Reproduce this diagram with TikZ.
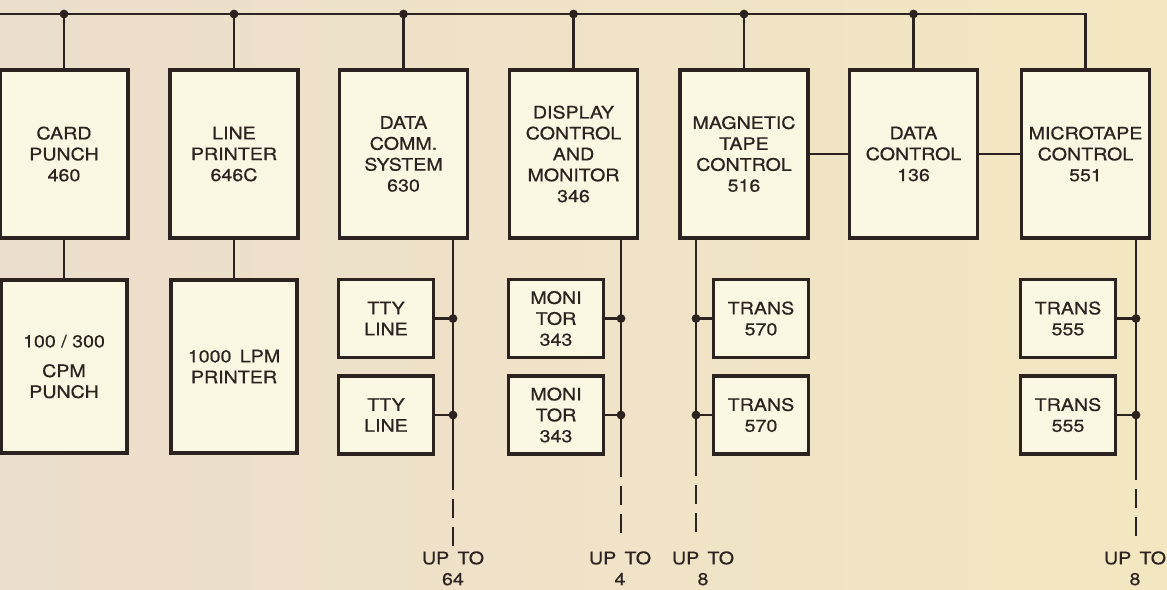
\documentclass[tikz,border=0pt]{standalone}
\usepackage{fontspec}
\setmainfont[FakeStretch=1.14,FakeBold=0.6]{TeX Gyre Heros}
\usetikzlibrary{calc}
\definecolor{psPaperL}{RGB}{236,222,204}
\definecolor{psPaperR}{RGB}{243,231,194}
\definecolor{psBox}   {RGB}{250,248,227}
\definecolor{psInk}   {RGB}{ 44, 35, 32}

\begin{document}
\begin{tikzpicture}[
  x=0.02cm,y=-0.02cm,
  every node/.style={font=\fontsize{9.8}{11.9}\selectfont,text=psInk},
  unit/.style={draw=psInk,line width=1.9pt,fill=psBox,align=center,inner sep=1pt},
  ctl/.style ={unit,minimum width=2.56cm,minimum height=3.36cm},
  dev/.style ={unit,minimum width=2.52cm,minimum height=3.46cm},
  small/.style={unit,minimum width=1.9cm,minimum height=1.56cm},
  wire/.style={draw=psInk,line width=1.3pt},
  more/.style={wire,dash pattern=on 0.38cm off 0.18cm,dash phase=0.38cm},
  joint/.style={circle,fill=psInk,inner sep=0pt,minimum size=5pt},
  upto/.style={align=center,inner sep=0pt,anchor=north}
]
% paper
\useasboundingbox (0,0) rectangle (1167,589);
\shade[left color=psPaperL,right color=psPaperR] (0,0) rectangle (1167,589);
\coordinate (busL) at (0,14);
% controllers on the bus
\node[ctl] (card)     at (64,154)     {CARD\\PUNCH\\460};
\node[ctl] (printer)  at (234,154)    {LINE\\PRINTER\\646C};
\node[ctl] (datacomm) at (403.5,154)  {DATA\\COMM.\\SYSTEM\\630};
\node[ctl] (display)  at (573.5,154)  {DISPLAY\\CONTROL\\AND\\MONITOR\\346};
\node[ctl] (magtape)  at (744,154)    {MAGNETIC\\TAPE\\CONTROL\\516};
\node[ctl] (datactl)  at (913.5,154)  {DATA\\CONTROL\\136};
\node[ctl] (micro)    at (1085.5,154) {MICROTAPE\\CONTROL\\551};
% devices
\node[dev] (cpm) at (64,366.5)  {100 / 300\\[5pt]CPM\\PUNCH};
\node[dev] (lpm) at (234,366.5) {1000 \,LPM\\PRINTER};
\node[small] (tty1)  at (386,318.5)  {TTY\\LINE};
\node[small] (tty2)  at (386,415)    {TTY\\LINE};
\node[small] (mon1)  at (556,318.5)  {MONI\\TOR\\343};
\node[small] (mon2)  at (556,415)    {MONI\\TOR\\343};
\node[small] (tr1)   at (761,318.5)  {TRANS\\570};
\node[small] (tr2)   at (761,415)    {TRANS\\570};
\node[small] (tr3)   at (1068,318.5) {TRANS\\555};
\node[small] (tr4)   at (1068,415)   {TRANS\\555};
% bus
\draw[wire] (busL) -| (micro.north);
\draw[wire] (card.north |- busL) -- (card.north);
\draw[wire] (printer.north |- busL) -- (printer.north);
\draw[wire] (datacomm.north |- busL) -- (datacomm.north);
\draw[wire] (display.north |- busL) -- (display.north);
\draw[wire] (magtape.north |- busL) -- (magtape.north);
\draw[wire] (datactl.north |- busL) -- (datactl.north);
\node[joint] (b1) at (card.north |- busL) {};
\node[joint] (b2) at (printer.north |- busL) {};
\node[joint] (b3) at (datacomm.north |- busL) {};
\node[joint] (b4) at (display.north |- busL) {};
\node[joint] (b5) at (magtape.north |- busL) {};
\node[joint] (b6) at (datactl.north |- busL) {};
% direct links
\draw[wire] (card.south) -- (cpm.north);
\draw[wire] (printer.south) -- (lpm.north);
\draw[wire] (magtape.east) -- (datactl.west);
\draw[wire] (datactl.east) -- (micro.west);
% device lines, solid part then dashed
\coordinate (dcmid) at (453,490);  \coordinate (dcend) at (453,546);
\coordinate (dpmid) at (621,477);  \coordinate (dpend) at (621,533);
\coordinate (mtmid) at (696,476);  \coordinate (mtend) at (696,532);
\coordinate (mcmid) at (1136,480); \coordinate (mcend) at (1136,543);
\draw[wire] (datacomm.south -| dcmid) -- (dcmid);
\draw[wire] (display.south -| dpmid) -- (dpmid);
\draw[wire] (magtape.south -| mtmid) -- (mtmid);
\draw[wire] (micro.south -| mcmid) -- (mcmid);
\draw[more] (dcmid) -- (dcend);
\draw[more] (dpmid) -- (dpend);
\draw[more] (mtmid) -- (mtend);
\draw[more] (mcmid) -- (mcend);
% taps
\draw[wire] (tty1.east) -- (tty1.east -| dcmid);
\draw[wire] (tty2.east) -- (tty2.east -| dcmid);
\draw[wire] (mon1.east) -- (mon1.east -| dpmid);
\draw[wire] (mon2.east) -- (mon2.east -| dpmid);
\draw[wire] (tr1.west) -- (tr1.west -| mtmid);
\draw[wire] (tr2.west) -- (tr2.west -| mtmid);
\draw[wire] (tr3.east) -- (tr3.east -| mcmid);
\draw[wire] (tr4.east) -- (tr4.east -| mcmid);
\node[joint] (t1) at (tty1.east -| dcmid) {};
\node[joint] (t2) at (tty2.east -| dcmid) {};
\node[joint] (t3) at (mon1.east -| dpmid) {};
\node[joint] (t4) at (mon2.east -| dpmid) {};
\node[joint] (t5) at (tr1.west -| mtmid) {};
\node[joint] (t6) at (tr2.west -| mtmid) {};
\node[joint] (t7) at (tr3.east -| mcmid) {};
\node[joint] (t8) at (tr4.east -| mcmid) {};
% counts
\node[upto] (up64) at (453,551)  {UP \,TO\\64};
\node[upto] (up4)  at (620,551)  {UP \,TO\\4};
\node[upto] (up8a) at (703,551)  {UP \,TO\\8};
\node[upto] (up8b) at (1135,551) {UP \,TO\\8};
\end{tikzpicture}
\end{document}
